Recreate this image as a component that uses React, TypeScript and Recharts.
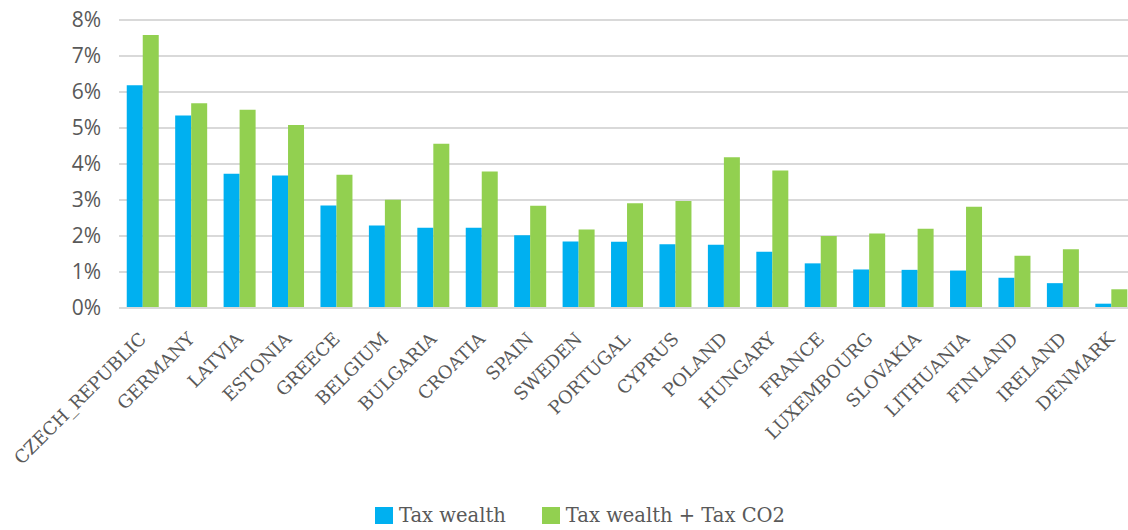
import { BarChart, Bar, XAxis, YAxis, CartesianGrid, Legend } from "recharts";

const countries = [
  "CZECH_REPUBLIC", "GERMANY", "LATVIA", "ESTONIA", "GREECE", "BELGIUM", "BULGARIA",
  "CROATIA", "SPAIN", "SWEDEN", "PORTUGAL", "CYPRUS", "POLAND", "HUNGARY", "FRANCE",
  "LUXEMBOURG", "SLOVAKIA", "LITHUANIA", "FINLAND", "IRELAND", "DENMARK",
];
const taxWealth = [
  6.19, 5.35, 3.73, 3.68, 2.85, 2.29, 2.23, 2.23, 2.02, 1.85, 1.84, 1.77, 1.76, 1.56,
  1.24, 1.07, 1.06, 1.04, 0.84, 0.69, 0.12,
];
const taxWealthCo2 = [
  7.58, 5.69, 5.51, 5.08, 3.7, 3.01, 4.56, 3.79, 2.84, 2.18, 2.91, 2.97, 4.19, 3.82,
  2.0, 2.07, 2.2, 2.81, 1.45, 1.63, 0.52,
];
const yTicks = [0, 1, 2, 3, 4, 5, 6, 7, 8];

const data = countries.map((name, i) => ({
  name,
  wealth: taxWealth[i],
  wealthCo2: taxWealthCo2[i],
}));

const BLUE = "#00b0f0";
const GREEN = "#92d050";

const CountryTick = ({ x, y, payload }: { x?: number; y?: number; payload?: { value: string } }) => {
  const tx = (x ?? 0) + 4;
  const ty = (y ?? 0) + 24;
  return (
    <text
      x={tx}
      y={ty}
      transform={`rotate(-45, ${tx}, ${ty})`}
      textAnchor="end"
      fill="#595959"
      style={{ fontFamily: "DejaVu Serif", fontSize: 18 }}
    >
      {payload?.value}
    </text>
  );
};

const LegendContent = () => (
  <div
    style={{
      display: "flex",
      alignItems: "center",
      fontFamily: "DejaVu Serif",
      fontSize: 19.5,
      color: "#595959",
    }}
  >
    <span style={{ width: 18, height: 17, background: BLUE, marginRight: 6 }} />
    <span style={{ marginRight: 36 }}>Tax wealth</span>
    <span style={{ width: 18, height: 17, background: GREEN, marginRight: 6 }} />
    <span>Tax wealth + Tax CO2</span>
  </div>
);

export default function App() {
  return (
    <div style={{ position: "absolute", left: 0, top: 0, background: "#fff" }}>
      <BarChart
        width={1128}
        height={530}
        data={data}
        margin={{ top: 20, right: -8, left: 0, bottom: 0 }}
        barCategoryGap="16%"
        barGap={0}
      >
        <CartesianGrid vertical={false} stroke="#d9d9d9" strokeWidth={2} />
        <XAxis
          dataKey="name"
          interval={0}
          height={192}
          tick={<CountryTick />}
          tickLine={false}
          axisLine={{ stroke: "#d9d9d9", strokeWidth: 2 }}
        />
        <YAxis
          width={119}
          domain={[0, 8]}
          ticks={yTicks}
          tickFormatter={(v) => `${v}%`}
          tick={{ fill: "#595959", fontSize: 21, fontFamily: "Open Sans" }}
          tickLine={false}
          axisLine={false}
          tickMargin={12}
        />
        <Legend
          verticalAlign="bottom"
          content={<LegendContent />}
          wrapperStyle={{ left: 375, bottom: -4, width: "auto", height: 30 }}
        />
        <Bar dataKey="wealth" name="Tax wealth" fill={BLUE} isAnimationActive={false} />
        <Bar dataKey="wealthCo2" name="Tax wealth + Tax CO2" fill={GREEN} isAnimationActive={false} />
      </BarChart>
    </div>
  );
}
